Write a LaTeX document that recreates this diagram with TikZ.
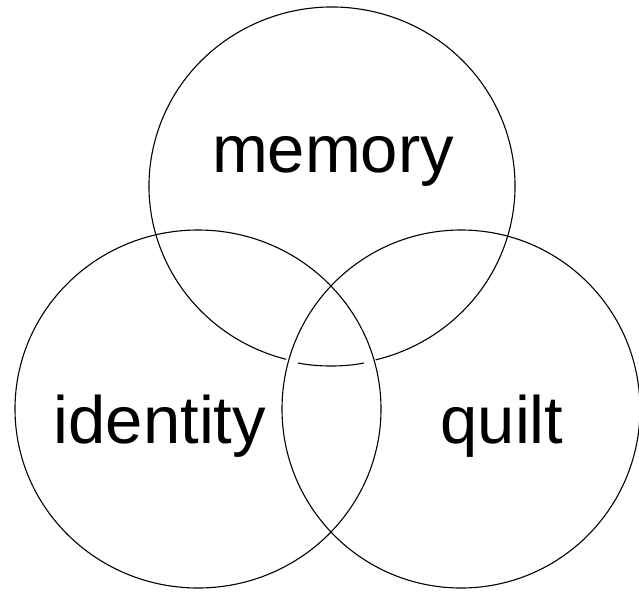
\documentclass[tikz,border=0pt]{standalone}
\usepackage{fontspec}
\setmainfont{Liberation Sans}

\begin{document}
\begin{tikzpicture}[
    x=1pt, y=-1pt,
    ring/.style={draw, line width=1.1pt},
    lbl/.style={anchor=base, inner sep=0pt, font=\fontsize{67}{80}\selectfont}
]
\useasboundingbox (0,0) rectangle (639,591);

% the three sets
\coordinate (memc) at (332,186);
\coordinate (idc) at (198,409);
\coordinate (quiltc) at (461,409);

\draw[ring] ([shift={(104.5:183 and 179)}]memc) arc[start angle=104.5, end angle=436.2, x radius=183, y radius=179];
\draw[ring] (idc) ellipse[x radius=183, y radius=179];
\draw[ring] (quiltc) ellipse[x radius=179, y radius=179];

% bit of the top set inside the lens
\coordinate (lensl) at (298,363);
\coordinate (lensr) at (364,363);
\draw[ring] (lensl) .. controls (318,367) and (344,367) .. (lensr);

\node[lbl] (mem) at (333,172) {memory};
\node[lbl] (id) at (160,443) {identity};
\node[lbl] (quilt) at (502,443) {quilt};

\end{tikzpicture}
\end{document}
